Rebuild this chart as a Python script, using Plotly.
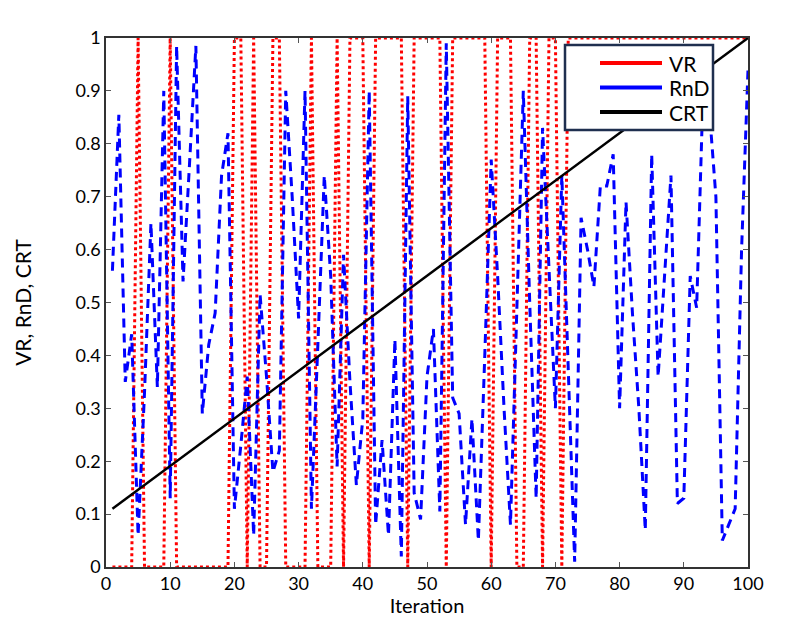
import plotly.graph_objects as go

iterations = list(range(1, 101))

vr = [0, 0, 0, 0, 1, 0, 0, 0, 0, 1,
      0, 0, 0, 0, 0, 0, 0, 0, 0, 1,
      1, 0, 1, 0, 0, 1, 1, 0, 0, 0,
      0, 1, 0, 0, 0, 1, 0, 1, 1, 1,
      0, 1, 1, 1, 1, 1, 0, 1, 1, 1,
      1, 1, 0, 1, 1, 1, 1, 1, 1, 0,
      1, 1, 1, 0, 0, 1, 1, 0, 1, 1,
      0, 1, 1, 1, 1, 1, 1, 1, 1, 1,
      1, 1, 1, 1, 1, 1, 1, 1, 1, 1,
      1, 1, 1, 1, 1, 1, 1, 1, 1, 1]

rnd = [0.56, 0.855, 0.35, 0.44, 0.06, 0.33, 0.65, 0.34, 0.90, 0.13,
       0.985, 0.54, 0.76, 0.985, 0.29, 0.42, 0.48, 0.74, 0.82, 0.11,
       0.23, 0.36, 0.06, 0.515, 0.36, 0.18, 0.22, 0.90, 0.70, 0.47,
       0.90, 0.11, 0.42, 0.74, 0.55, 0.19, 0.59, 0.35, 0.155, 0.28,
       0.90, 0.08, 0.24, 0.06, 0.43, 0.02, 0.89, 0.14, 0.09, 0.36,
       0.45, 0.105, 0.99, 0.32, 0.29, 0.08, 0.28, 0.05, 0.40, 0.77,
       0.55, 0.30, 0.08, 0.50, 0.90, 0.50, 0.13, 0.83, 0.56, 0.30,
       0.74, 0.38, 0.01, 0.66, 0.60, 0.53, 0.72, 0.72, 0.78, 0.30,
       0.69, 0.48, 0.30, 0.07, 0.78, 0.36, 0.56, 0.74, 0.12, 0.13,
       0.55, 0.49, 0.90, 0.86, 0.70, 0.05, 0.08, 0.11, 0.60, 0.94]

crt_x = [1, 100]
crt_y = [0.11, 1.0]

series_names = ["VR", "RnD", "CRT"]
series_colors = ["#ff0000", "#0000ff", "#000000"]

x_ticks = list(range(0, 101, 10))
y_ticks = [round(0.1 * i, 1) for i in range(11)]
y_tick_text = ["0", "0.1", "0.2", "0.3", "0.4", "0.5", "0.6", "0.7", "0.8", "0.9", "1"]

FONT = "Lato, 'Open Sans', sans-serif"

fig = go.Figure()
fig.add_trace(go.Scatter(x=iterations, y=vr, mode="lines", name="VR",
                         line=dict(color=series_colors[0], width=3, dash="3px,3px"),
                         showlegend=False))
fig.add_trace(go.Scatter(x=iterations, y=rnd, mode="lines", name="RnD",
                         line=dict(color=series_colors[1], width=3, dash="9px,6px"),
                         showlegend=False))
fig.add_trace(go.Scatter(x=crt_x, y=crt_y, mode="lines", name="CRT",
                         line=dict(color=series_colors[2], width=2.5),
                         showlegend=False))

# plot-area geometry (pixels) for the hand-drawn legend box
L, R, T, B = 106, 748, 38, 567
W, H = R - L, B - T
def px(xp):
    return (xp - L) / W
def py(yp):
    return (B - yp) / H

shapes = [dict(type="rect", xref="paper", yref="paper",
               x0=px(565), x1=px(713), y0=py(130), y1=py(45),
               fillcolor="white", line=dict(color="#1f2f4f", width=2.5),
               layer="above")]
annotations = []
for i, (nm, col) in enumerate(zip(series_names, series_colors)):
    yy = 63 + i * 24.5
    shapes.append(dict(type="line", xref="paper", yref="paper",
                       x0=px(600), x1=px(662), y0=py(yy), y1=py(yy),
                       line=dict(color=col, width=4), layer="above"))
    annotations.append(dict(xref="paper", yref="paper", x=px(667), y=py(yy),
                            text=nm, showarrow=False, xanchor="left",
                            yanchor="middle",
                            font=dict(family=FONT, size=21, color="black")))

fig.update_layout(
    width=801, height=617,
    margin=dict(l=L, r=801 - R, t=T, b=617 - B),
    paper_bgcolor="white", plot_bgcolor="white",
    font=dict(family=FONT, size=18, color="black"),
    shapes=shapes, annotations=annotations,
    showlegend=False,
)
fig.update_xaxes(range=[0, 100], tickvals=x_ticks, ticks="inside", ticklen=5,
                 tickcolor="#555", showline=True, linecolor="#333", linewidth=1.5,
                 mirror="ticks", showgrid=False, zeroline=False, automargin=False,
                 title=dict(text="Iteration", font=dict(size=20), standoff=2),
                 tickfont=dict(size=18))
fig.update_yaxes(range=[0, 1], tickvals=y_ticks, ticktext=y_tick_text,
                 ticks="inside", ticklen=5, tickcolor="#555",
                 showline=True, linecolor="#333", linewidth=1.5,
                 mirror="ticks", showgrid=False, zeroline=False, automargin=False,
                 title=dict(text="VR, RnD, CRT", font=dict(size=21), standoff=38),
                 tickfont=dict(size=18))

fig.write_html("out.html")
